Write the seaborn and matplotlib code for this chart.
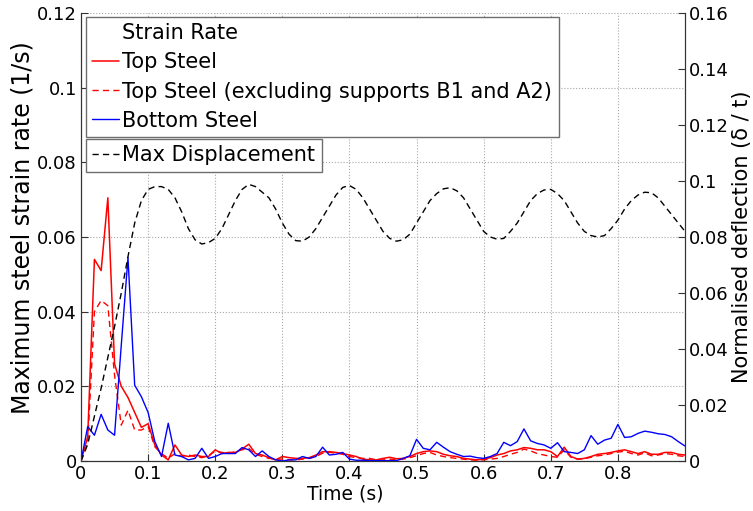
import numpy as np
import matplotlib
matplotlib.use('Agg')
import matplotlib.pyplot as plt
import seaborn as sns
from matplotlib.lines import Line2D

# time axis (s), sampled every 0.01 s
time = np.round(np.arange(0, 0.905, 0.01), 2)

top_steel = [
    0.0, 0.0065, 0.054, 0.051, 0.0705, 0.026, 0.020, 0.017, 0.013, 0.009,
    0.0100, 0.0043, 0.0016, 0.0003, 0.0043, 0.0016, 0.0012, 0.0016, 0.0012, 0.0012,
    0.0030, 0.0020, 0.0023, 0.0023, 0.0032, 0.0045, 0.0020, 0.0016, 0.0009, 0.0003,
    0.0012, 0.0009, 0.0007, 0.0007, 0.0009, 0.0016, 0.0025, 0.0025, 0.0023, 0.0020,
    0.0016, 0.0012, 0.0005, 0.0003, 0.0003, 0.0007, 0.0010, 0.0006, 0.0007, 0.0012,
    0.0020, 0.0025, 0.0027, 0.0025, 0.0018, 0.0014, 0.0012, 0.0007, 0.0005, 0.0003,
    0.0005, 0.0009, 0.0016, 0.0020, 0.0027, 0.0030, 0.0036, 0.0034, 0.0030, 0.0030,
    0.0025, 0.0012, 0.0037, 0.0012, 0.0005, 0.0007, 0.0012, 0.0018, 0.0020, 0.0023,
    0.0027, 0.0030, 0.0025, 0.0020, 0.0025, 0.0018, 0.0018, 0.0023, 0.0023, 0.0018,
    0.0016,
]

top_steel_excl = [
    0.0, 0.0047, 0.040, 0.043, 0.0416, 0.023, 0.0096, 0.0136, 0.0083, 0.0083,
    0.0092, 0.0038, 0.0020, 0.0007, 0.0020, 0.0012, 0.0016, 0.0012, 0.0009, 0.0014,
    0.0027, 0.0023, 0.0020, 0.0025, 0.0030, 0.0034, 0.0018, 0.0012, 0.0007, 0.0005,
    0.0005, 0.0003, 0.0003, 0.0005, 0.0007, 0.0012, 0.0021, 0.0023, 0.0021, 0.0018,
    0.0012, 0.0009, 0.0007, 0.0007, 0.0003, 0.0003, 0.0005, 0.0003, 0.0005, 0.0009,
    0.0014, 0.0020, 0.0023, 0.0016, 0.0012, 0.0009, 0.0007, 0.0005, 0.0003, 0.0002,
    0.0003, 0.0005, 0.0007, 0.0012, 0.0018, 0.0023, 0.0032, 0.0027, 0.0020, 0.0016,
    0.0012, 0.0010, 0.0030, 0.0010, 0.0005, 0.0006, 0.0010, 0.0014, 0.0016, 0.0020,
    0.0024, 0.0026, 0.0020, 0.0016, 0.0022, 0.0014, 0.0016, 0.0020, 0.0018, 0.0014,
    0.0012,
]

bottom_steel = [
    0.0, 0.0092, 0.0069, 0.0125, 0.0083, 0.0069, 0.031, 0.0545, 0.0203, 0.0172,
    0.0130, 0.0052, 0.0012, 0.0101, 0.0016, 0.0012, 0.0003, 0.0007, 0.0034, 0.0007,
    0.0012, 0.0020, 0.0020, 0.0020, 0.0036, 0.0030, 0.0012, 0.0027, 0.0012, 0.0003,
    0.0, 0.0003, 0.0003, 0.0012, 0.0007, 0.0012, 0.0037, 0.0016, 0.0018, 0.0023,
    0.0005, 0.0002, 0.0002, 0.0001, 0.0001, 0.0001, 0.0001, 0.0001, 0.0007, 0.0014,
    0.0058, 0.0034, 0.0030, 0.0050, 0.0037, 0.0025, 0.0018, 0.0012, 0.0013, 0.0009,
    0.0007, 0.0012, 0.0020, 0.0050, 0.0041, 0.0052, 0.0086, 0.0054, 0.0047, 0.0043,
    0.0034, 0.0049, 0.0025, 0.0023, 0.0020, 0.0030, 0.0068, 0.0045, 0.0056, 0.0061,
    0.0098, 0.0063, 0.0065, 0.0074, 0.0080, 0.0077, 0.0073, 0.0071, 0.0065, 0.0052,
    0.0040,
]

max_displacement = [
    0.0, 0.006, 0.016, 0.026, 0.037, 0.048, 0.060, 0.073, 0.085, 0.093,
    0.097, 0.098, 0.098, 0.097, 0.094, 0.089, 0.083, 0.079, 0.0775, 0.078,
    0.0795, 0.083, 0.088, 0.093, 0.097, 0.0988, 0.098, 0.096, 0.094, 0.090,
    0.085, 0.081, 0.0787, 0.0785, 0.080, 0.083, 0.087, 0.091, 0.095, 0.0977,
    0.0984, 0.097, 0.094, 0.090, 0.086, 0.082, 0.0795, 0.0785, 0.079, 0.081,
    0.085, 0.089, 0.093, 0.0955, 0.0972, 0.0976, 0.0965, 0.094, 0.090, 0.086,
    0.082, 0.080, 0.0792, 0.0795, 0.082, 0.085, 0.089, 0.093, 0.0955, 0.0968,
    0.097, 0.0955, 0.093, 0.089, 0.085, 0.082, 0.0805, 0.080, 0.0805, 0.083,
    0.086, 0.090, 0.093, 0.095, 0.096, 0.0958, 0.094, 0.091, 0.088, 0.085,
    0.082,
]

x_ticks = [0, 0.1, 0.2, 0.3, 0.4, 0.5, 0.6, 0.7, 0.8]
x_tick_labels = ['0', '0.1', '0.2', '0.3', '0.4', '0.5', '0.6', '0.7', '0.8']
left_ticks = [0, 0.02, 0.04, 0.06, 0.08, 0.1, 0.12]
left_tick_labels = ['0', '0.02', '0.04', '0.06', '0.08', '0.1', '0.12']
right_ticks = [0, 0.02, 0.04, 0.06, 0.08, 0.1, 0.12, 0.14, 0.16]
right_tick_labels = ['0', '0.02', '0.04', '0.06', '0.08', '0.1', '0.12', '0.14', '0.16']

sns.set_theme(style='white')
plt.rcParams['font.family'] = ['DejaVu Sans']
plt.rcParams['text.color'] = 'black'
plt.rcParams['axes.labelcolor'] = 'black'

fig = plt.figure(figsize=(7.53, 5.11), dpi=100)
ax = fig.add_axes([81 / 753, 50 / 511, 604 / 753, 448 / 511])
ax2 = ax.twinx()

sns.lineplot(x=time, y=top_steel, ax=ax, color='red', lw=1.1, legend=False)
sns.lineplot(x=time, y=top_steel_excl, ax=ax, color='red', lw=1.0, legend=False,
             linestyle=(0, (4.5, 3)))
sns.lineplot(x=time, y=bottom_steel, ax=ax, color='blue', lw=1.0, legend=False)
sns.lineplot(x=time, y=max_displacement, ax=ax2, color='black', lw=1.0, legend=False,
             linestyle=(0, (4.5, 3)))

ax.set_xlim(0, 0.9)
ax.set_ylim(0, 0.12)
ax2.set_ylim(0, 0.16)
ax.set_xticks(x_ticks)
ax.set_xticklabels(x_tick_labels)
ax.set_yticks(left_ticks)
ax.set_yticklabels(left_tick_labels)
ax2.set_yticks(right_ticks)
ax2.set_yticklabels(right_tick_labels)

for a in (ax, ax2):
    a.tick_params(direction='in', length=5, width=0.8, color='#333333',
                  labelsize=13, labelcolor='black', pad=3)
    for side in ('left', 'right', 'bottom'):
        a.spines[side].set_color('#333333')
        a.spines[side].set_linewidth(0.8)
    a.spines['top'].set_visible(False)
ax.tick_params(axis='y', left=True, right=False)
ax.tick_params(axis='x', bottom=True)
ax2.tick_params(axis='y', right=True, left=False)

ax.grid(True, linestyle=':', color='#a8a8a8', linewidth=0.8)
ax.set_axisbelow(True)

ax.set_xlabel('Time (s)', fontsize=13.5)
ax.xaxis.set_label_coords((345 - 81) / 604, -0.052)
ax.set_ylabel('Maximum steel strain rate (1/s)', fontsize=17)
ax.yaxis.set_label_coords((35 - 81) / 604, 0.52)
ax2.set_ylabel('Normalised deflection (δ / t)', fontsize=15)
ax2.yaxis.set_label_coords((732 - 81) / 604, 0.5)

l_top, l_excl, l_bot = ax.lines[0], ax.lines[1], ax.lines[2]
l_disp = ax2.lines[0]
blank = Line2D([], [], color='none')

leg1 = ax2.legend([blank, l_top, l_excl, l_bot],
                  ['Strain Rate', 'Top Steel', 'Top Steel (excluding supports B1 and A2)', 'Bottom Steel'],
                  loc='upper left', bbox_to_anchor=((86 - 81) / 604, (461 - 17) / 448),
                  borderaxespad=0, fontsize=15, handlelength=1.3, handletextpad=0.15,
                  borderpad=0.3, labelspacing=0.44, fancybox=False, framealpha=1,
                  edgecolor='#6e6e6e')
leg1.get_frame().set_linewidth(1.0)
ax2.add_artist(leg1)

leg2 = ax2.legend([l_disp], ['Max Displacement'],
                  loc='upper left', bbox_to_anchor=((86 - 81) / 604, (461 - 139) / 448),
                  borderaxespad=0, fontsize=15, handlelength=1.3, handletextpad=0.15,
                  borderpad=0.3, fancybox=False, framealpha=1, edgecolor='#6e6e6e')
leg2.get_frame().set_linewidth(1.0)

fig.savefig('out.png', dpi=100)
